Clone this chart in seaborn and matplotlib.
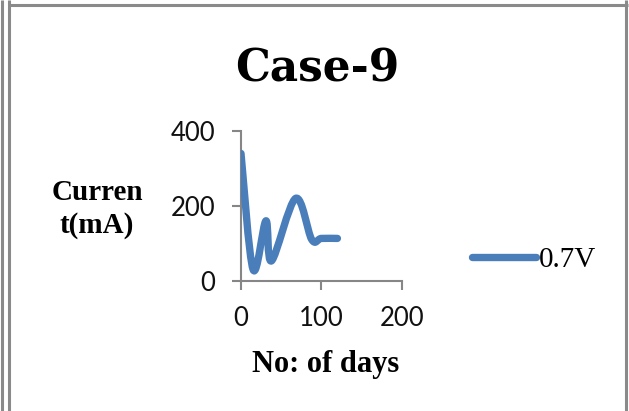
import numpy as np
import pandas as pd
import matplotlib
matplotlib.use("Agg")
import matplotlib.pyplot as plt
from matplotlib.path import Path
from matplotlib.patches import PathPatch
from matplotlib.lines import Line2D
import seaborn as sns

# Measured current over time for case 9 at 0.7 V
days = [0, 15, 31, 38, 68, 88, 100, 120]
current_ma = [340, 30, 160, 53, 220, 110, 113, 113]
series_label = "0.7V"

x_ticks = [0, 100, 200]
y_ticks = [0, 200, 400]
title_text = "Case-9"
x_label = "No: of days"
y_label = "Curren\nt(mA)"

BLUE = "#4A7EBB"
AXIS_GRAY = "#868686"
FRAME_GRAY = "#8a8a8a"

sns.set_theme(style="white")
plt.rcParams["font.family"] = ["Lato", "DejaVu Sans"]
plt.rcParams["text.color"] = "black"

W, H = 629, 411
fig = plt.figure(figsize=(W / 100, H / 100), dpi=100)


def px(x, y):
    """Pixel position (from top-left) to figure fraction."""
    return x / W, 1 - y / H


# plot area: x 0..200 -> 241..401.7 px, y 0..400 -> 280.7..131 px
ax = fig.add_axes([241 / W, 1 - 280.7 / H, 160.7 / W, 149.7 / H])

df = pd.DataFrame({"days": days, "current": current_ma})
sns.lineplot(data=df, x="days", y="current", ax=ax, color=BLUE,
             linewidth=5.3, legend=False)
# the series is shown as a smoothed curve through the same points
for ln in ax.lines:
    ln.set_visible(False)


def smooth_path(xs, ys):
    pts = np.column_stack([xs, ys]).astype(float)
    n = len(pts)
    verts = [pts[0]]
    codes = [Path.MOVETO]
    for i in range(n - 1):
        p0 = pts[i - 1] if i > 0 else pts[i]
        p1 = pts[i]
        p2 = pts[i + 1]
        p3 = pts[i + 2] if i + 2 < n else pts[i + 1]
        c1 = p1 + (p2 - p0) / 6.0
        c2 = p2 - (p3 - p1) / 6.0
        verts += [c1, c2, p2]
        codes += [Path.CURVE4] * 3
    return Path(verts, codes)


curve = PathPatch(smooth_path(df["days"], df["current"]), facecolor="none",
                  edgecolor=BLUE, linewidth=5.3, capstyle="round",
                  joinstyle="round", transform=ax.transData, zorder=3)
ax.add_patch(curve)

ax.set_xlim(0, 200)
ax.set_ylim(0, 400)
ax.set_xticks(x_ticks)
ax.set_yticks(y_ticks)
ax.set_xlabel("")
ax.set_ylabel("")
for side in ("top", "right"):
    ax.spines[side].set_visible(False)
for side in ("left", "bottom"):
    ax.spines[side].set_color(AXIS_GRAY)
    ax.spines[side].set_linewidth(1.5)
ax.tick_params(axis="both", direction="out", length=6.5, width=1.5,
               color=AXIS_GRAY, labelcolor="#111111", labelsize=18.5)
ax.tick_params(axis="x", pad=12, bottom=True)
ax.tick_params(axis="y", pad=12, left=True)
ax.patch.set_alpha(0)

# titles and axis labels
tx, ty = px(317.5, 82)
fig.text(tx, ty, title_text, ha="center", va="baseline", color="black",
         family="DejaVu Serif", fontweight="bold", fontsize=31.5)
lx, ly = px(326, 372)
fig.text(lx, ly, x_label, ha="center", va="baseline", color="black",
         family="Liberation Serif", fontweight="bold", fontsize=22)
yx, yy = px(97, 209)
fig.text(yx, yy, y_label, ha="center", va="center", multialignment="center",
         color="black", family="Liberation Serif", fontweight="bold",
         fontsize=21, linespacing=1.28)

# legend to the right of the plot
handle = Line2D([], [], color=BLUE, linewidth=5.3, solid_capstyle="round")
gx, gy = px(472, 260)
leg = fig.legend([handle], [series_label], loc="center left",
                 bbox_to_anchor=(gx, gy), frameon=False, borderpad=0,
                 borderaxespad=0, handlelength=2.2, handletextpad=0.1,
                 prop={"family": "Liberation Serif", "size": 21})
for t in leg.get_texts():
    t.set_color("black")

# outer frame lines
frame_kw = dict(color=FRAME_GRAY, linewidth=2.2, transform=fig.transFigure,
                solid_capstyle="butt")
for x in (1.5, 9, 626):
    fig.add_artist(Line2D([x / W, x / W], [0, 1], **frame_kw))
fig.add_artist(Line2D([8 / W, 627.5 / W], [1 - 5 / H, 1 - 5 / H], **frame_kw))

fig.savefig("out.png", dpi=100)
